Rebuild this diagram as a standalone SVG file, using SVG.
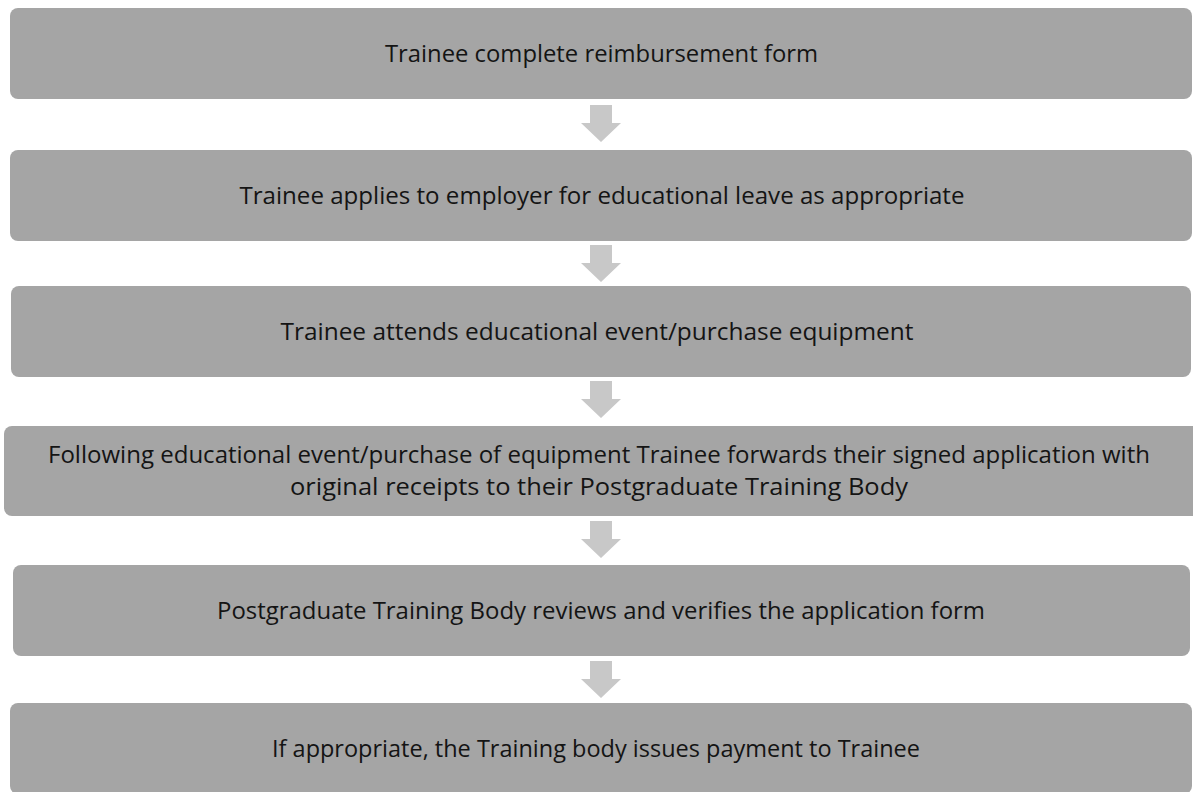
<svg xmlns="http://www.w3.org/2000/svg" width="1193" height="792" viewBox="0 0 1193 792">
<style>
.box{fill:#a5a5a5;}
.lbl{font-family:"Open Sans","Noto Sans","Liberation Sans",sans-serif;font-size:24px;fill:#141414;text-anchor:middle;}
.arr{fill:#c8c8c8;}
</style>
<defs>
<path id="dn" d="M-11,0 H11 V18 H20 L0,37 L-20,18 H-11 Z"/>
</defs>
<rect width="1193" height="792" fill="#ffffff"/>
<g id="connectors">
<use href="#dn" class="arr" x="601" y="105"/>
<use href="#dn" class="arr" x="601" y="245"/>
<use href="#dn" class="arr" x="601" y="381"/>
<use href="#dn" class="arr" x="601" y="521"/>
<use href="#dn" class="arr" x="601" y="661"/>
</g>
<g id="n1"><rect class="box" x="10" y="8" width="1182" height="91" rx="8"/><text class="lbl" x="601.5" y="62" textLength="433" lengthAdjust="spacingAndGlyphs">Trainee complete reimbursement form</text></g>
<g id="n2"><rect class="box" x="10" y="150" width="1182" height="91" rx="8"/><text class="lbl" x="602" y="204" textLength="725" lengthAdjust="spacingAndGlyphs">Trainee applies to employer for educational leave as appropriate</text></g>
<g id="n3"><rect class="box" x="11" y="286" width="1180" height="91" rx="8"/><text class="lbl" x="597" y="340" textLength="633" lengthAdjust="spacingAndGlyphs">Trainee attends educational event/purchase equipment</text></g>
<g id="n4"><rect class="box" x="4" y="426" width="1200" height="90" rx="8"/><text class="lbl" x="599" y="463" textLength="1102" lengthAdjust="spacingAndGlyphs">Following educational event/purchase of equipment Trainee forwards their signed application with</text><text class="lbl" x="599" y="495" textLength="618" lengthAdjust="spacingAndGlyphs">original receipts to their Postgraduate Training Body</text></g>
<g id="n5"><rect class="box" x="13" y="565" width="1177" height="91" rx="8"/><text class="lbl" x="601" y="619" textLength="768" lengthAdjust="spacingAndGlyphs">Postgraduate Training Body reviews and verifies the application form</text></g>
<g id="n6"><rect class="box" x="10" y="703" width="1182" height="91" rx="8"/><text class="lbl" x="596" y="757" textLength="648" lengthAdjust="spacingAndGlyphs">If appropriate, the Training body issues payment to Trainee</text></g>
</svg>
